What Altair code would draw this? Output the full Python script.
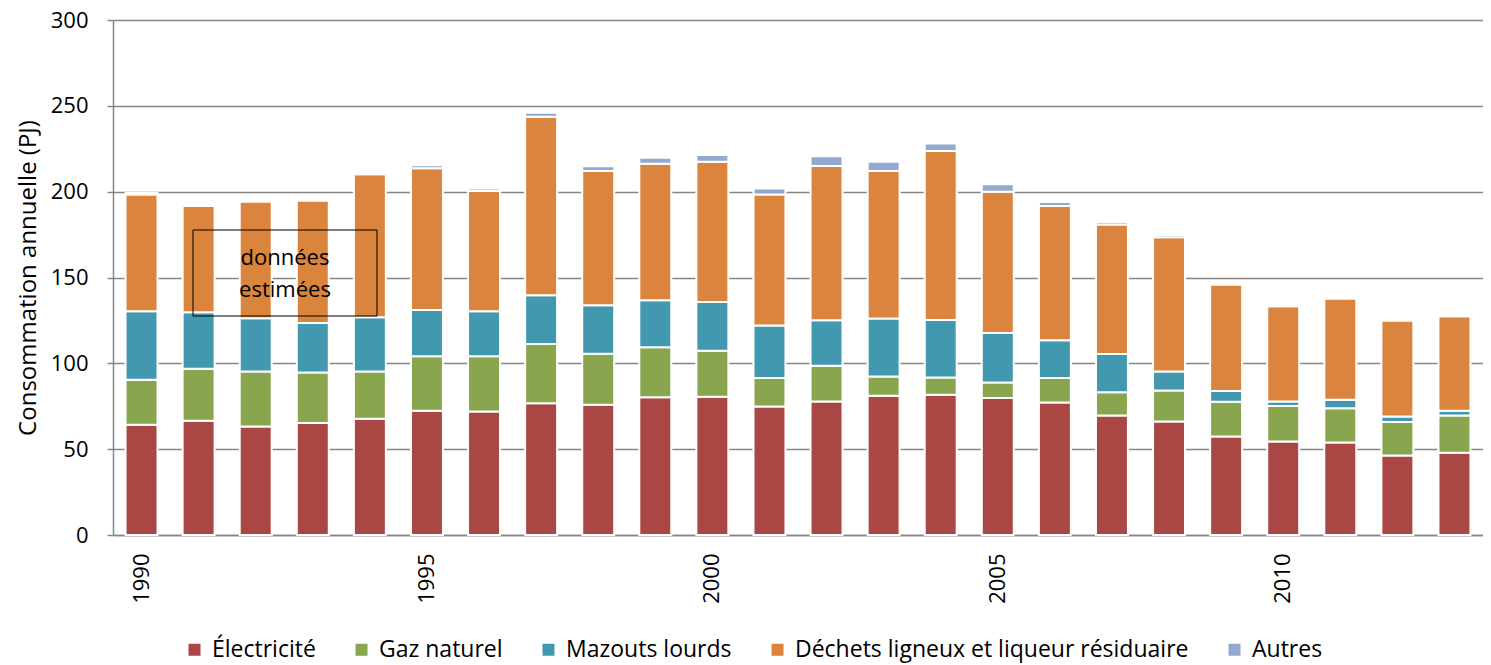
import altair as alt
import pandas as pd

years = list(range(1990, 2014))
series = ["Électricité", "Gaz naturel", "Mazouts lourds",
          "Déchets ligneux et liqueur résiduaire", "Autres"]
colors = ["#AA4643", "#89A54E", "#4198AF", "#DB843D", "#93A9CF"]

electricite = [64.2, 66.5, 63.2, 65.2, 67.7, 72.4, 72.0, 76.7, 75.9, 80.2, 80.5, 74.9,
               77.8, 81.1, 81.7, 79.8, 77.2, 69.6, 66.1, 57.4, 54.5, 53.9, 46.3, 47.9]
gaz_naturel = [26.3, 30.4, 32.1, 29.5, 27.6, 31.7, 32.1, 34.6, 29.7, 29.1, 26.9, 16.5,
               20.8, 11.3, 10.1, 9.1, 14.2, 13.5, 18.1, 20.2, 20.6, 20.0, 19.5, 21.7]
mazouts_lourds = [39.9, 32.9, 31.0, 28.8, 31.5, 27.0, 26.3, 28.4, 28.3, 27.5, 28.4, 30.6,
                  26.5, 33.7, 33.5, 28.8, 22.0, 22.3, 11.1, 6.3, 2.7, 4.9, 3.3, 2.8]
dechets = [68.0, 61.8, 67.9, 71.4, 83.3, 82.5, 70.0, 103.9, 78.2, 79.5, 81.7, 76.4,
           89.9, 86.0, 98.4, 82.3, 78.2, 75.5, 78.2, 62.0, 55.5, 58.9, 55.8, 55.0]
autres = [0.8, 0.3, 0.3, 0.3, 0.3, 1.8, 1.5, 2.3, 2.7, 3.5, 3.9, 3.5,
          5.6, 5.4, 4.3, 4.3, 2.4, 1.4, 1.2, 0.3, 0.2, 0.2, 0.2, 0.2]
label_years = [1990, 1995, 2000, 2005, 2010]
annotation_text = "données\nestimées"

values = [electricite, gaz_naturel, mazouts_lourds, dechets, autres]
rows = []
for i, name in enumerate(series):
    for yr, v in zip(years, values[i]):
        rows.append({"Année": yr, "Source": name, "PJ": v, "ordre": i})
df = pd.DataFrame(rows)

FONT = "Open Sans"
GRAY = "#868686"

bars = alt.Chart(df).mark_bar(stroke="white", strokeWidth=2).encode(
    x=alt.X("Année:O",
            scale=alt.Scale(paddingInner=0.44, paddingOuter=0.22),
            axis=alt.Axis(values=label_years, labelAngle=-90, title=None,
                          ticks=False, labelPadding=18, labelFontSize=22,
                          labelColor="black", domainColor=GRAY, domainWidth=1.5,
                          labelFont=FONT)),
    y=alt.Y("PJ:Q", stack="zero",
            scale=alt.Scale(domain=[0, 300]),
            axis=alt.Axis(values=[0, 50, 100, 150, 200, 250, 300],
                          title="Consommation annuelle (PJ)",
                          titleFontSize=24, titleFontWeight="normal",
                          titleColor="black", titleFont=FONT, titlePadding=10,
                          labelFontSize=22, labelColor="black", labelFont=FONT,
                          tickSize=6, tickColor=GRAY, tickWidth=1.5,
                          labelPadding=19, domainColor=GRAY, domainWidth=1.5,
                          gridColor=GRAY, gridWidth=1.5)),
    color=alt.Color("Source:N",
                    scale=alt.Scale(domain=series, range=colors),
                    legend=alt.Legend(title=None, orient="none", direction="horizontal",
                                      legendX=70, legendY=618, symbolType="square",
                                      symbolSize=144, symbolStrokeWidth=0,
                                      labelFontSize=23, labelColor="black",
                                      labelFont=FONT, columnPadding=34,
                                      labelOffset=6, labelLimit=600)),
    order=alt.Order("ordre:Q", sort="ascending"),
)

ann = pd.DataFrame({"t": [annotation_text]})
box = alt.Chart(ann).mark_rect(fillOpacity=0, stroke="black", strokeWidth=1).encode(
    x=alt.value(80), x2=alt.value(264), y=alt.value(210), y2=alt.value(296))
txt = alt.Chart(ann).mark_text(fontSize=22, font=FONT, lineBreak="\n", lineHeight=32,
                               align="center", baseline="middle", color="black").encode(
    x=alt.value(172), y=alt.value(238), text="t:N")

chart = alt.layer(bars, box, txt).properties(
    width=1370, height=515,
    padding={"left": 105, "top": 12, "right": 0, "bottom": 130},
    autosize=alt.AutoSizeParams(type="none"),
).configure_view(stroke=None)

chart.save("out.html", embed_options={"renderer": "svg", "actions": False})
